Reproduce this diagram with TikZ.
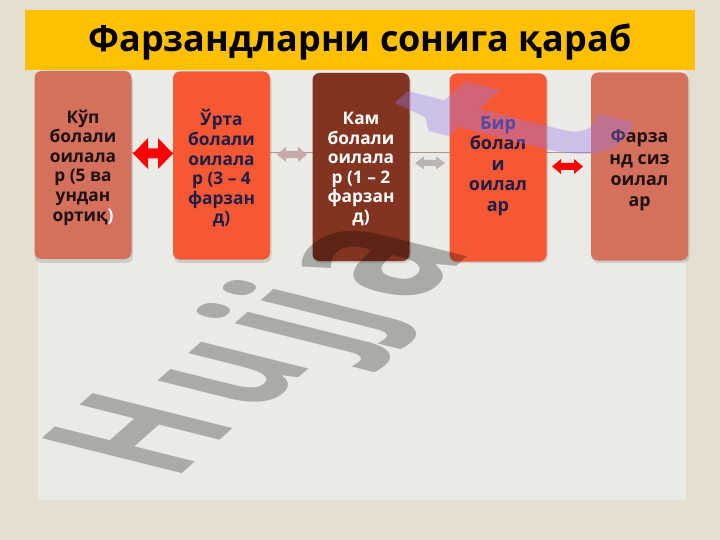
\documentclass[tikz,border=0pt]{standalone}
\usepackage{fontspec}
\setmainfont{Open Sans}
\usetikzlibrary{calc}
\definecolor{bgbeige}{RGB}{228,223,209}
\definecolor{panel}{RGB}{234,234,230}
\definecolor{titley}{RGB}{255,192,0}
\definecolor{salmon}{RGB}{213,112,92}
\definecolor{orangered}{RGB}{246,88,52}
\definecolor{maroon}{RGB}{130,52,32}
\definecolor{navytxt}{RGB}{30,30,72}
\definecolor{navyblue}{RGB}{44,48,130}
\definecolor{darktxt}{RGB}{28,18,18}
\definecolor{pinkgray}{RGB}{200,168,168}
\definecolor{graypink}{RGB}{188,180,180}
\definecolor{linebrown}{RGB}{176,150,136}
\definecolor{wmpurple}{RGB}{150,120,235}
% name, cx, cy, half length, head half height, shaft half height, head length, colour
\newcommand\dblarr[8]{%
  \coordinate (#1) at (#2,#3);
  \fill[#8] ($(#1)+(-#4,0)$) -- ($(#1)+(-#4+#7,-#5)$) -- ($(#1)+(-#4+#7,-#6)$)
     -- ($(#1)+(#4-#7,-#6)$) -- ($(#1)+(#4-#7,-#5)$) -- ($(#1)+(#4,0)$)
     -- ($(#1)+(#4-#7,#5)$) -- ($(#1)+(#4-#7,#6)$) -- ($(#1)+(-#4+#7,#6)$)
     -- ($(#1)+(-#4+#7,#5)$) -- cycle;}
\begin{document}
\begin{tikzpicture}[x=1pt,y=-1pt,
  box/.style={rounded corners=7pt, minimum width=97pt, minimum height=188pt, inner sep=0pt},
  shadowbox/.style={rounded corners=7pt, fill=black, fill opacity=0.12},
  lbl/.style={font=\bfseries\fontsize{17.3}{19.6}\selectfont, align=center, inner sep=0pt},
  wm/.style={transform shape, anchor=base west, inner sep=0pt,
        font=\bfseries\fontsize{100}{100}\selectfont, text=black, text opacity=0.27}]
\useasboundingbox (0,0) rectangle (720,540);
% background
\fill[bgbeige] (0,0) rectangle (720,540);
\fill[panel] (38,12) rectangle (686,500);
% title
\fill[titley] (25,10) rectangle (695,70);
\node[font=\bfseries\fontsize{36}{38}\selectfont, text=black, inner sep=0pt] (title) at (360,42) {Фарзандларни сонига қараб};
% connecting line
\coordinate (ls) at (131,152);
\coordinate (le) at (591,152);
\draw[linebrown, line width=0.7pt] (ls) -- (le);
% shadows
\foreach \cx in {83,221.5,361,498,639.5}{
  \fill[shadowbox] (\cx-48,75) rectangle (\cx+50,263);
}
% boxes
\node[box, fill=salmon] (b1) at (83,165) {};
\node[box, fill=orangered] (b2) at (221.5,165.5) {};
\node[box, fill=maroon] (b3) at (361,167) {};
\node[box, fill=orangered] (b4) at (498,167.5) {};
\node[box, fill=salmon] (b5) at (639.5,166.5) {};
% labels
\node[lbl, text=darktxt] (t1) at (83,167.5) {Кўп\\болали\\оилала\\р (5 ва\\ундан\\ортиқ\textcolor{white}{)}};
\node[lbl, text=navytxt] (t2) at (221.5,168.5) {Ўрта\\болали\\оилала\\р (3 – 4\\фарзан\\д)};
\node[lbl, text=white] (t3) at (361,169) {Кам\\болали\\оилала\\р (1 – 2\\фарзан\\д)};
\node[lbl, text=navytxt, font=\bfseries\fontsize{18}{20.5}\selectfont] (t4) at (498,166) {\textcolor{navyblue}{Бир}\\болал\\и\\оилал\\ар};
\node[lbl, text=darktxt, font=\bfseries\fontsize{17.8}{21.3}\selectfont] (t5) at (639.5,170.5) {Фарза\\нд сиз\\оилал\\ар};
% double arrows between boxes
\dblarr{a12}{153}{153.5}{20}{15.5}{5}{15}{red}
\dblarr{a23}{292}{154.5}{15}{7.5}{3.5}{9}{pinkgray}
\dblarr{a34}{430}{163}{15}{6.5}{3}{9}{graypink}
\dblarr{a45}{567.5}{166.5}{15.5}{7.5}{3.5}{9}{red}
% watermark
\begin{scope}[shift={(174,481)}]
  \node[wm, cm={0.868,0.769,-1.963,0.491,(0,0)}] (wH) at (0,0) {H};
  \node[wm, cm={0.868,0.769,-1.963,0.491,(0,0)}] (wu) at ($(wH.base east)+(18,-8)$) {u};
  \node[wm, cm={0.868,0.769,-1.963,0.491,(0,0)}] (wj) at ($(wu.base east)+(19,-6)$) {jj};
  \node[wm, cm={1.042,0.923,-2.356,0.589,(0,0)}] (wa) at ($(wj.base east)+(24,-4)$) {a};
  \node[wm, cm={1.389,1.230,-3.141,0.786,(0,0)}, text=wmpurple, text opacity=0.36] (wt) at ($(wa.base east)+(106,-76)$) {t};
\end{scope}
\end{tikzpicture}
\end{document}
